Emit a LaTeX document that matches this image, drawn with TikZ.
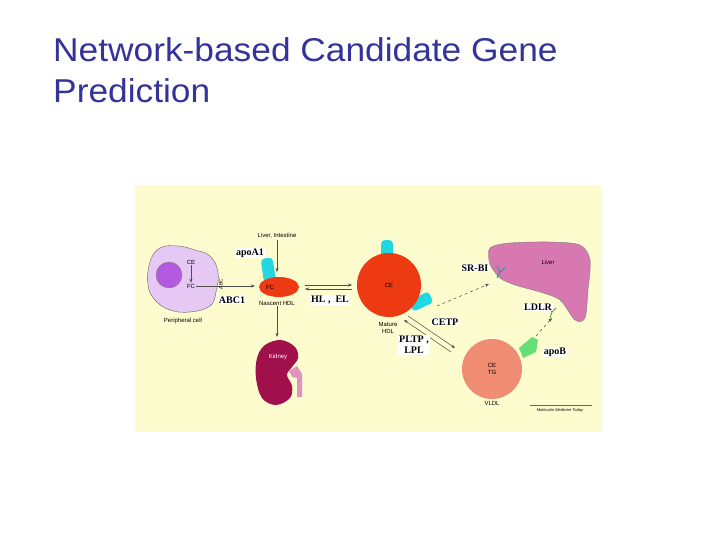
\documentclass[tikz,border=0pt]{standalone}
\usepackage{fontspec}
\setmainfont{Liberation Serif}
\newfontfamily\sansf{Liberation Sans}
\usetikzlibrary{arrows.meta}
\definecolor{titleblue}{HTML}{333399}
\definecolor{bgy}{HTML}{FCFCCF}
\definecolor{hdlred}{HTML}{EE3A12}
\definecolor{vldl}{HTML}{F08C72}
\definecolor{lav}{HTML}{E6C8F5}
\definecolor{nuc}{HTML}{B45AE0}
\definecolor{liver}{HTML}{D878B0}
\definecolor{kid}{HTML}{A0104A}
\definecolor{cyanb}{HTML}{22D8E0}
\definecolor{greenb}{HTML}{66DD77}
\begin{document}
\begin{tikzpicture}[x=1pt,y=-1pt,
  small/.style={font=\sansf\fontsize{6}{7}\selectfont, inner sep=1pt},
  gene/.style={font=\bfseries\fontsize{10}{11}\selectfont, fill=white, inner sep=1pt},
  arr/.style={-{Stealth[length=4pt,width=3pt]}, draw=black!70, line width=0.5pt},
  title/.style={font=\sansf\fontsize{33}{41}\selectfont, text=titleblue, align=left, anchor=base west, inner sep=0pt, xscale=1.07}]
\useasboundingbox (0,0) rectangle (720,540);
\fill[bgy] (135,185) rectangle (602,432);
\node[title] (t) at (53,62) {Network-based Candidate Gene};
\node[title] (t2) at (53,103) {Prediction};
% peripheral cell
\fill[lav, draw=black!60, line width=0.4pt] plot[smooth cycle, tension=0.7] coordinates {(150,262)(160,248)(178,246)(195,250)(210,256)(218,272)(216,292)(210,306)(190,312)(170,310)(155,300)(148,285)};
\fill[nuc, draw=black!50] (169,275) circle (13);
\node[small] (ce1) at (191,262) {CE};
\node[small] (fc1) at (191,286) {FC};
\draw[arr] (ce1) -- (fc1);
\node[small] (pc) at (183,321) {Peripheral cell};
% nascent HDL
\fill[cyanb, rounded corners=4pt, rotate around={8:(268,268)}] (262,258) rectangle (274,282);
\fill[hdlred] (279,287) ellipse (20 and 10);
\node[small] (fc2) at (270,287) {FC};
\node[small] (nh) at (277,303) {Nascent HDL};
\node[small] (li) at (277,236) {Liver, Intestine};
\node[gene] (apo) at (250,253) {apoA1};
\draw[arr] (li) -- (277,272);
\draw[arr] (fc1) -- (255,286);
\node[gene] (abc) at (232,300) {ABC1};
\node[font=\sansf\fontsize{5}{5}\selectfont, rotate=90] (abcv) at (221,284) {ABC};
% kidney
\fill[kid] plot[smooth cycle, tension=0.6] coordinates {(265,345)(281,340)(295,347)(298,358)(292,367)(287,375)(292,386)(290,398)(276,405)(262,398)(256,378)(257,358)};
\fill[liver!80] (289,371) -- (297,366) -- (302,374) -- (302,397) -- (297,397) -- (297,378) -- (292,377) -- cycle;
\node[small, text=white] (kn) at (278,357) {Kidney};
\draw[arr] (nh) -- (277,337);
% HL EL
\draw[arr] (305,285) -- (352,285);
\draw[arr] (352,289) -- (305,289);
\node[gene] (hl) at (330,300) {HL ,\ \ EL};
% mature HDL
\fill[cyanb, rounded corners=4pt] (381,240) rectangle (393,262);
\fill[cyanb, rounded corners=3pt, rotate around={25:(420,302)}] (410,296) rectangle (432,308);
\fill[hdlred] (389,285) circle (32);
\node[small] (ce2) at (389,285) {CE};
\node[small, align=center] (mh) at (388,328) {Mature\\HDL};
% liver
\fill[liver, draw=black!50, line width=0.4pt] plot[smooth cycle, tension=0.5] coordinates {(490,248)(510,243)(550,242)(580,245)(590,260)(588,290)(585,318)(575,320)(560,300)(540,292)(515,285)(500,278)(490,264)};
\node[small] (lv) at (548,262) {Liver};
\draw[cyanb!70!black, line width=0.8pt] (497,278)--(500,272)--(505,268) (500,272)--(497,266);
\draw[greenb!70!black, line width=0.8pt] (550,318)--(552,312)--(556,308) (552,312)--(548,307);
\draw[arr, dashed] (437,306) -- (489,284);
\node[gene] (sr) at (475,268) {SR-BI};
\node[gene] (ldlr) at (538,307) {LDLR};
% VLDL
\fill[vldl] (492,369) circle (30);
\fill[greenb] (519,348) -- (532,337) -- (538,340) -- (536,352) -- (523,358) -- cycle;
\node[small, align=center] (ctg) at (492,369) {CE\\TG};
\node[small] (vl) at (492,403) {VLDL};
\node[gene] (apob) at (555,352) {apoB};
\draw[arr, dashed] (536,336) -- (552,318);
% CETP
\draw[arr] (408,316) -- (455,348);
\draw[arr] (451,352) -- (404,320);
\node[gene] (cetp) at (445,322) {CETP};
\node[gene, align=center] (pltp) at (414,345) {PLTP ,\\LPL};
\node[font=\sansf\fontsize{4}{5}\selectfont\itshape] (mmt) at (560,410) {Molecular Medicine Today};
\draw[black!60, line width=0.3pt] (530,405) -- (592,405);
\end{tikzpicture}
\end{document}
